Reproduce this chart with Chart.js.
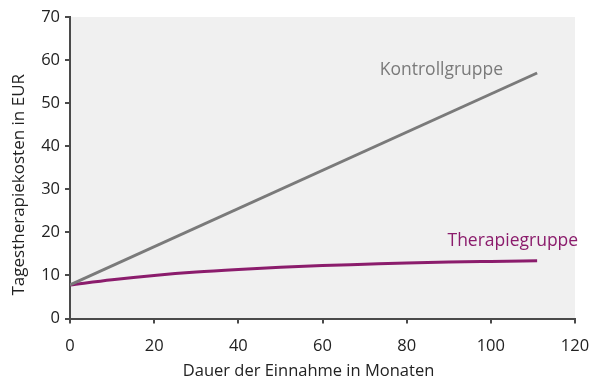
<!DOCTYPE html>
<html>
<head>
<meta charset="utf-8">
<script src="https://cdn.jsdelivr.net/npm/chart.js@4"></script>
<style>
  html, body { margin: 0; padding: 0; background: #fff; }
  #wrap { width: 600px; height: 388px; }
</style>
</head>
<body>
<div id="wrap"><canvas id="chart" width="600" height="388"></canvas></div>
<script>
// --- Data ---
const controlMonths = [0, 111];
const controlCost   = [7.8, 57];
const therapyMonths = [0, 10, 20, 30, 40, 50, 60, 70, 80, 90, 100, 111];
const therapyCost   = [7.8, 9.0, 10.0, 10.8, 11.4, 11.9, 12.3, 12.6, 12.9, 13.1, 13.25, 13.4];
const xTicks = [0, 20, 40, 60, 80, 100, 120];
const yTicks = [0, 10, 20, 30, 40, 50, 60, 70];
const seriesNames = ['Kontrollgruppe', 'Therapiegruppe'];
const xTitle = 'Dauer der Einnahme in Monaten';
const yTitle = 'Tagestherapiekosten in EUR';

// --- Styles ---
const FONT   = '"Open Sans", "Noto Sans", sans-serif';
const GRAY   = '#7a7a7a';
const PURPLE = '#8b1c6c';
const AXIS   = '#4a4a4a';

const toPoints = (xs, ys) => xs.map((x, i) => ({ x, y: ys[i] }));

// plot area background
const plotBg = {
  id: 'plotBg',
  beforeDraw(chart) {
    const { ctx, chartArea: a } = chart;
    ctx.save();
    ctx.fillStyle = '#f0f0f0';
    ctx.fillRect(a.left, a.top, a.right - a.left, a.bottom - a.top);
    ctx.restore();
  }
};

// series names next to the lines + axis titles (both sit off-centre in the original)
const lineLabels = {
  id: 'lineLabels',
  afterDatasetsDraw(chart) {
    const { ctx, chartArea: a, scales: { x, y } } = chart;
    const anchors = [[73.6, 57.8, GRAY], [89.7, 18.1, PURPLE]];
    ctx.save();
    ctx.font = '17.5px ' + FONT;
    ctx.textBaseline = 'middle';
    ctx.textAlign = 'left';
    anchors.forEach(([ax, ay, col], i) => {
      ctx.fillStyle = col;
      ctx.fillText(seriesNames[i], x.getPixelForValue(ax), y.getPixelForValue(ay));
    });
    ctx.fillStyle = '#222';
    ctx.textAlign = 'center';
    ctx.font = '16.5px ' + FONT;
    ctx.fillText(xTitle, (a.left + a.right) / 2 - 14, 371);
    ctx.font = '17px ' + FONT;
    ctx.translate(19, (a.top + a.bottom) / 2 + 17);
    ctx.rotate(-Math.PI / 2);
    ctx.fillText(yTitle, 0, 0);
    ctx.restore();
  }
};

new Chart(document.getElementById('chart'), {
  type: 'line',
  data: {
    datasets: [
      {
        label: seriesNames[0],
        data: toPoints(controlMonths, controlCost),
        borderColor: GRAY,
        borderWidth: 3,
        pointRadius: 0,
        fill: false,
      },
      {
        label: seriesNames[1],
        data: toPoints(therapyMonths, therapyCost),
        borderColor: PURPLE,
        borderWidth: 3,
        pointRadius: 0,
        tension: 0.4,
        cubicInterpolationMode: 'monotone',
        fill: false,
      }
    ]
  },
  options: {
    responsive: false,
    animation: false,
    layout: { padding: { top: 17, right: 25, left: 0, bottom: 0 } },
    plugins: { legend: { display: false }, tooltip: { enabled: false } },
    scales: {
      x: {
        type: 'linear',
        min: 0,
        max: 120,
        afterBuildTicks: s => { s.ticks = xTicks.map(v => ({ value: v })); },
        afterFit: s => { s.height = 69.5; s.paddingRight = 0; s.paddingLeft = 0; },
        grid: { drawOnChartArea: false, drawTicks: true, tickLength: 5, tickColor: AXIS, lineWidth: 2 },
        border: { color: AXIS, width: 2 },
        ticks: { color: '#222', font: { family: FONT, size: 16.5 }, padding: 13, maxRotation: 0 },
        title: { display: false }
      },
      y: {
        min: 0,
        max: 70,
        afterBuildTicks: s => { s.ticks = yTicks.map(v => ({ value: v })); },
        afterFit: s => { s.width = 70; s.paddingTop = 0; s.paddingBottom = 0; },
        grid: { drawOnChartArea: false, drawTicks: true, tickLength: 5, tickColor: AXIS, lineWidth: 2 },
        border: { color: AXIS, width: 2 },
        ticks: { color: '#222', font: { family: FONT, size: 16.5 }, padding: 5 },
        title: { display: false }
      }
    }
  },
  plugins: [plotBg, lineLabels]
});
</script>
</body>
</html>
